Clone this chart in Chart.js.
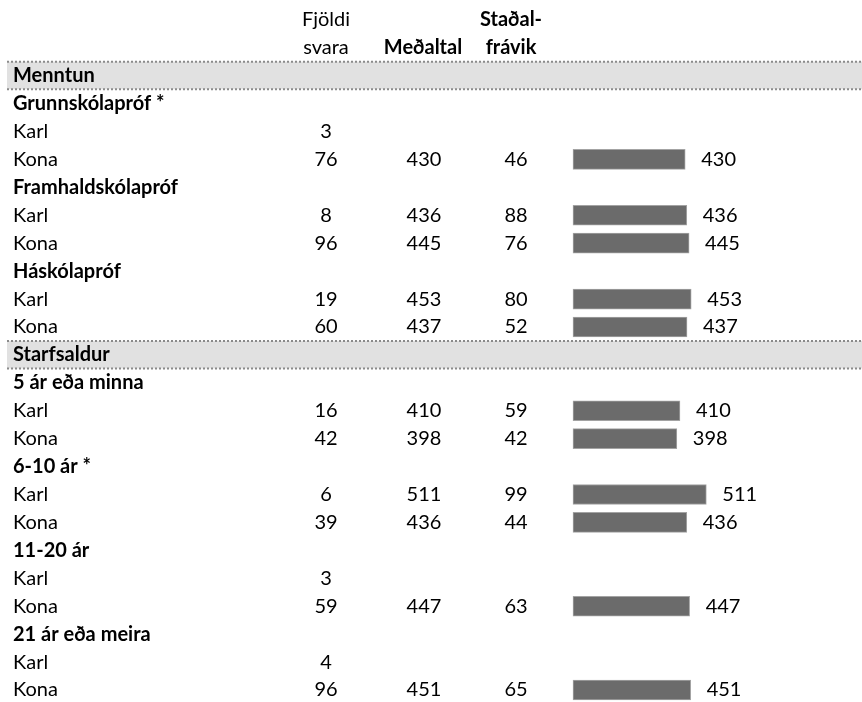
<!DOCTYPE html>
<html>
<head>
<meta charset="utf-8">
<script src="https://cdn.jsdelivr.net/npm/chart.js@4/dist/chart.umd.min.js"></script>
<style>
  html, body { margin: 0; padding: 0; background: #ffffff; }
  #wrap { width: 862px; height: 702px; position: relative; }
</style>
</head>
<body>
<div id="wrap"><canvas id="c" width="862" height="702"></canvas></div>
<script>
// ---- Data ----
const rowLabels = ['', '', 'Menntun', 'Grunnskólapróf *', 'Karl', 'Kona', 'Framhaldskólapróf', 'Karl', 'Kona',
  'Háskólapróf', 'Karl', 'Kona', 'Starfsaldur', '5 ár eða minna', 'Karl', 'Kona', '6-10 ár *', 'Karl', 'Kona',
  '11-20 ár', 'Karl', 'Kona', '21 ár eða meira', 'Karl', 'Kona'];
const rowTypes = ['head', 'head', 'section', 'group', 'item', 'item', 'group', 'item', 'item',
  'group', 'item', 'item', 'section', 'group', 'item', 'item', 'group', 'item', 'item',
  'group', 'item', 'item', 'group', 'item', 'item'];
const fjoldiSvara = [null, null, null, null, 3, 76, null, 8, 96, null, 19, 60, null, null, 16, 42, null, 6, 39, null, 3, 59, null, 4, 96];
const medaltal = [null, null, null, null, null, 430, null, 436, 445, null, 453, 437, null, null, 410, 398, null, 511, 436, null, null, 447, null, null, 451];
const stadalfravik = [null, null, null, null, null, 46, null, 88, 76, null, 80, 52, null, null, 59, 42, null, 99, 44, null, null, 63, null, null, 65];
const headerLine1 = ['Fjöldi', '', 'Staðal-'];
const headerLine2 = ['svara', 'Meðaltal', 'frávik'];
const headerBold = [false, true, true];

// ---- Styling / layout constants ----
const FONT = 'Lato';
const FS = 20;
const colCenters = [326, 424, 516];
const headCenters = [326, 423, 511];

const tablePlugin = {
  id: 'tablePlugin',
  beforeDraw(chart) {
    const ctx = chart.ctx;
    const y = chart.scales.y;
    ctx.save();
    rowTypes.forEach((t, i) => {
      if (t !== 'section') return;
      const cy = y.getPixelForTick(i);
      const top = cy - 14, bot = cy + 13.5;
      ctx.fillStyle = '#e1e1e1';
      ctx.fillRect(7, top, 862 - 7, bot - top);
      ctx.strokeStyle = '#8a8a8a';
      ctx.lineWidth = 2;
      ctx.setLineDash([2, 2]);
      ctx.beginPath();
      ctx.moveTo(7, top); ctx.lineTo(862, top);
      ctx.moveTo(7, bot); ctx.lineTo(862, bot);
      ctx.stroke();
    });
    ctx.restore();
  },
  afterDraw(chart) {
    const ctx = chart.ctx;
    const y = chart.scales.y;
    ctx.save();
    ctx.fillStyle = '#000000';
    ctx.textBaseline = 'middle';
    ctx.textAlign = 'center';
    // headers
    headerLine1.forEach((h, k) => {
      ctx.font = (headerBold[k] ? 'bold ' : '') + FS + 'px ' + FONT;
      ctx.fillText(h, headCenters[k], y.getPixelForTick(0));
    });
    headerLine2.forEach((h, k) => {
      ctx.font = (headerBold[k] ? 'bold ' : '') + FS + 'px ' + FONT;
      ctx.fillText(h, headCenters[k], y.getPixelForTick(1));
    });
    ctx.font = FS + 'px ' + FONT;
    [fjoldiSvara, medaltal, stadalfravik].forEach((col, k) => {
      col.forEach((v, i) => {
        if (v === null) return;
        ctx.fillText(String(v), colCenters[k], y.getPixelForTick(i));
      });
    });
    // bar value labels
    const meta = chart.getDatasetMeta(0);
    ctx.textAlign = 'left';
    meta.data.forEach((bar, i) => {
      const v = medaltal[i];
      if (v === null) return;
      ctx.fillText(String(v), bar.x + 16, bar.y);
    });
    ctx.restore();
  }
};

new Chart(document.getElementById('c'), {
  type: 'bar',
  data: {
    labels: rowLabels,
    datasets: [{
      data: medaltal,
      backgroundColor: '#6b6b6b',
      borderColor: '#a3a3a3',
      borderWidth: 1,
      borderSkipped: false,
      barThickness: 20,
      clip: false
    }]
  },
  options: {
    indexAxis: 'y',
    responsive: false,
    animation: false,
    devicePixelRatio: 1,
    layout: { padding: { left: 13, right: 862 - 573 - Math.round(1100 * 0.2605), top: 19.8, bottom: 9 } },
    plugins: { legend: { display: false }, tooltip: { enabled: false }, title: { display: false } },
    scales: {
      x: { display: false, min: 0, max: 1100 },
      y: {
        type: 'category',
        offset: false,
        grid: { display: false, drawTicks: false },
        border: { display: false },
        afterFit(s) { s.width = 560; },
        ticks: {
          autoSkip: false,
          crossAlign: 'far',
          padding: 0,
          color: '#000000',
          font: (c) => {
            const t = rowTypes[c.index];
            return { family: FONT, size: FS, weight: (t === 'section' || t === 'group') ? 'bold' : 'normal' };
          }
        }
      }
    }
  },
  plugins: [tablePlugin]
});
</script>
</body>
</html>
